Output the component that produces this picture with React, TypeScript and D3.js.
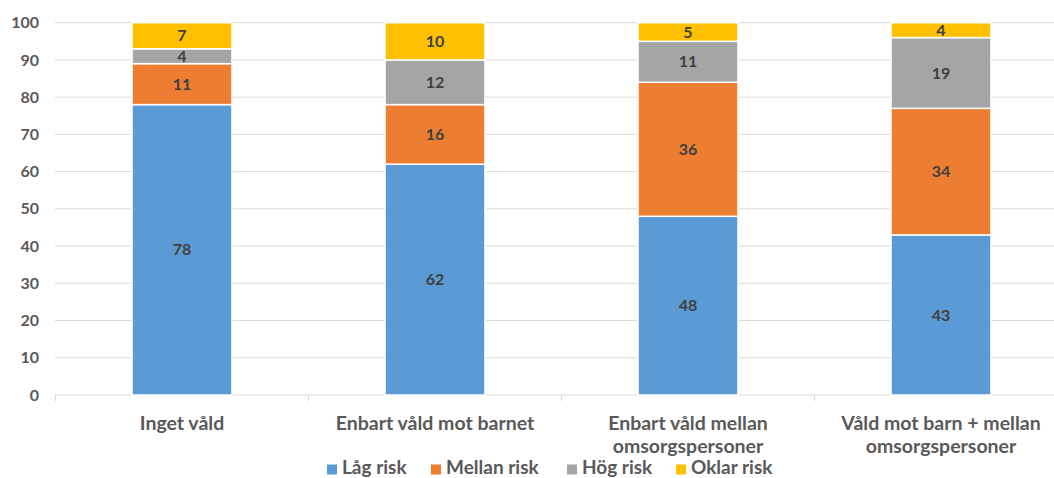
import React from "react";
import * as d3 from "d3";

const categories: string[][] = [
  ["Inget våld"],
  ["Enbart våld mot barnet"],
  ["Enbart våld mellan", "omsorgspersoner"],
  ["Våld mot barn + mellan", "omsorgspersoner"],
];
const seriesNames = ["Låg risk", "Mellan risk", "Hög risk", "Oklar risk"];
const seriesColors = ["#5B9BD5", "#ED7D31", "#A5A5A5", "#FFC000"];
const lagRisk = [78, 62, 48, 43];
const mellanRisk = [11, 16, 36, 34];
const hogRisk = [4, 12, 11, 19];
const oklarRisk = [7, 10, 5, 4];
const yTicks = [0, 10, 20, 30, 40, 50, 60, 70, 80, 90, 100];

const W = 1054;
const H = 478;
const FONT = "Lato, 'Open Sans', sans-serif";

export default function App() {
  const keys = categories.map((c) => c.join(" "));
  const rows = keys.map((k, i) => ({
    key: k,
    [seriesNames[0]]: lagRisk[i],
    [seriesNames[1]]: mellanRisk[i],
    [seriesNames[2]]: hogRisk[i],
    [seriesNames[3]]: oklarRisk[i],
  }));
  const stacked = d3.stack<any>().keys(seriesNames)(rows);

  const x = d3.scaleBand<string>().domain(keys).range([55.5, 55.5 + 4 * 253]).padding(0);
  const y = d3.scaleLinear().domain([0, 100]).range([395, 22.7]);
  const barW = x.bandwidth() * 0.395;

  // legend swatch positions
  const legendX = [327, 431, 567, 676];

  return (
    <svg
      width={W}
      height={H}
      style={{ position: "absolute", left: 0, top: 0, background: "#fff" }}
      fontFamily={FONT}
    >
      {/* gridlines */}
      {yTicks.slice(1).map((t) => (
        <line key={t} x1={55} x2={W} y1={y(t)} y2={y(t)} stroke="#d9d9d9" strokeWidth={1} />
      ))}
      {/* baseline with category ticks */}
      <line x1={55} x2={W} y1={y(0)} y2={y(0)} stroke="#d9d9d9" strokeWidth={1} />
      {keys.map((k) => (
        <line key={k} x1={x(k)!} x2={x(k)!} y1={y(0)} y2={y(0) + 6} stroke="#d9d9d9" strokeWidth={1} />
      ))}
      {/* y axis labels */}
      {yTicks.map((t) => (
        <text
          key={t}
          x={39}
          y={y(t)}
          dy="0.35em"
          textAnchor="end"
          fontSize={16}
          fontWeight={700}
          fill="#595959"
        >
          {t}
        </text>
      ))}
      {/* stacked bars */}
      {stacked.map((layer, si) => (
        <g key={layer.key}>
          {layer.map((d: any, i: number) => {
            const cx = x(keys[i])! + x.bandwidth() / 2;
            const y0 = y(d[0]);
            const y1 = y(d[1]);
            const v = d[1] - d[0];
            return (
              <g key={i}>
                <rect
                  x={cx - barW / 2}
                  y={y1}
                  width={barW}
                  height={y0 - y1}
                  fill={seriesColors[si]}
                  stroke="#fff"
                  strokeWidth={1.5}
                />
                <text
                  x={cx}
                  y={(y0 + y1) / 2}
                  dy="0.35em"
                  textAnchor="middle"
                  fontSize={16}
                  fontWeight={700}
                  fill="#404040"
                >
                  {v}
                </text>
              </g>
            );
          })}
        </g>
      ))}
      {/* category labels */}
      {categories.map((lines, i) => (
        <text
          key={i}
          x={x(keys[i])! + x.bandwidth() / 2}
          textAnchor="middle"
          fontSize={19.5}
          fontWeight={700}
          fill="#595959"
        >
          {lines.map((l, j) => (
            <tspan key={j} x={x(keys[i])! + x.bandwidth() / 2} y={429.5 + j * 23}>
              {l}
            </tspan>
          ))}
        </text>
      ))}
      {/* legend */}
      {seriesNames.map((n, i) => (
        <g key={n} transform={`translate(${legendX[i]},0)`}>
          <rect x={0} y={464.5} width={10} height={10} fill={seriesColors[i]} />
          <text x={15} y={474} fontSize={19} fontWeight={700} fill="#595959">
            {n}
          </text>
        </g>
      ))}
    </svg>
  );
}
